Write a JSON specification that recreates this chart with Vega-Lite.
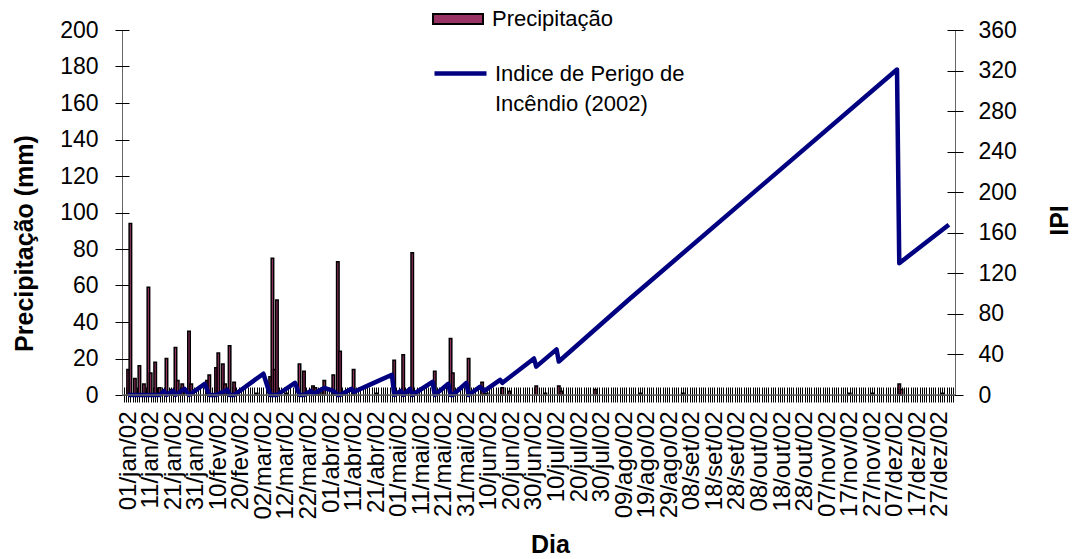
{
  "$schema": "https://vega.github.io/schema/vega-lite/v6.json",
  "width": 833,
  "height": 365,
  "autosize": {"type": "none"},
  "padding": {"left": 122, "top": 30, "right": 124, "bottom": 164},
  "background": "white",
  "config": {
    "view": {"stroke": null},
    "font": "Liberation Sans",
    "axis": {
      "grid": false,
      "labelFont": "Liberation Sans",
      "labelColor": "black",
      "labelFontSize": 23,
      "titleFont": "Liberation Sans",
      "titleFontSize": 25,
      "titleFontWeight": "bold",
      "titleColor": "black",
      "tickColor": "black",
      "tickWidth": 1,
      "domainColor": "#666666",
      "domainWidth": 1
    },
    "legend": {"labelFont": "Liberation Sans", "labelColor": "black", "labelFontSize": 22, "padding": 0}
  },
  "datasets": {
    "precip": [
      {"d": 1, "mm": 14}, {"d": 2, "mm": 94}, {"d": 4, "mm": 9}, {"d": 6, "mm": 16}, {"d": 8, "mm": 6},
      {"d": 10, "mm": 59}, {"d": 11, "mm": 12}, {"d": 13, "mm": 18}, {"d": 15, "mm": 4}, {"d": 18, "mm": 20},
      {"d": 20, "mm": 3}, {"d": 22, "mm": 26}, {"d": 23, "mm": 8}, {"d": 25, "mm": 6}, {"d": 28, "mm": 35},
      {"d": 29, "mm": 6}, {"d": 36, "mm": 8}, {"d": 37, "mm": 11}, {"d": 40, "mm": 15}, {"d": 41, "mm": 23},
      {"d": 43, "mm": 17}, {"d": 44, "mm": 6}, {"d": 46, "mm": 27}, {"d": 48, "mm": 7}, {"d": 58, "mm": 1},
      {"d": 64, "mm": 10}, {"d": 65, "mm": 75}, {"d": 66, "mm": 14}, {"d": 67, "mm": 52}, {"d": 71, "mm": 1},
      {"d": 77, "mm": 17}, {"d": 79, "mm": 13}, {"d": 83, "mm": 5}, {"d": 84, "mm": 4}, {"d": 86, "mm": 3},
      {"d": 88, "mm": 8}, {"d": 92, "mm": 11}, {"d": 93, "mm": 2}, {"d": 94, "mm": 73}, {"d": 95, "mm": 24},
      {"d": 101, "mm": 14}, {"d": 111, "mm": 1}, {"d": 119, "mm": 19}, {"d": 123, "mm": 22}, {"d": 127, "mm": 78},
      {"d": 137, "mm": 13}, {"d": 144, "mm": 31}, {"d": 145, "mm": 12}, {"d": 152, "mm": 20}, {"d": 158, "mm": 7},
      {"d": 160, "mm": 1}, {"d": 167, "mm": 4}, {"d": 170, "mm": 2}, {"d": 182, "mm": 5}, {"d": 186, "mm": 1},
      {"d": 192, "mm": 5}, {"d": 193, "mm": 2}, {"d": 208, "mm": 3}, {"d": 228, "mm": 1}, {"d": 247, "mm": 1},
      {"d": 321, "mm": 1}, {"d": 331, "mm": 1}, {"d": 343, "mm": 6}, {"d": 344, "mm": 3}, {"d": 362, "mm": 1}
    ],
    "ipi": [
      {"d": 1, "v": 0}, {"d": 15, "v": 0}, {"d": 17, "v": 4}, {"d": 18, "v": 0}, {"d": 21, "v": 4},
      {"d": 22, "v": 0}, {"d": 26, "v": 6}, {"d": 28, "v": 0}, {"d": 35, "v": 11}, {"d": 37, "v": 0},
      {"d": 40, "v": 0}, {"d": 45, "v": 5}, {"d": 46, "v": 0}, {"d": 48, "v": 0}, {"d": 61, "v": 21},
      {"d": 64, "v": 0}, {"d": 67, "v": 0}, {"d": 75, "v": 12}, {"d": 77, "v": 0}, {"d": 79, "v": 0},
      {"d": 82, "v": 4}, {"d": 83, "v": 1}, {"d": 88, "v": 7}, {"d": 92, "v": 4}, {"d": 94, "v": 0},
      {"d": 95, "v": 0}, {"d": 100, "v": 6}, {"d": 101, "v": 3}, {"d": 110, "v": 12}, {"d": 118, "v": 20},
      {"d": 119, "v": 0}, {"d": 122, "v": 4}, {"d": 123, "v": 0}, {"d": 126, "v": 6}, {"d": 127, "v": 0},
      {"d": 136, "v": 13}, {"d": 137, "v": 0}, {"d": 143, "v": 11}, {"d": 144, "v": 0}, {"d": 145, "v": 0},
      {"d": 151, "v": 12}, {"d": 152, "v": 0}, {"d": 157, "v": 8}, {"d": 159, "v": 4}, {"d": 166, "v": 15},
      {"d": 167, "v": 12}, {"d": 181, "v": 36}, {"d": 182, "v": 28}, {"d": 191, "v": 45}, {"d": 192, "v": 33},
      {"d": 223, "v": 94}, {"d": 342, "v": 321}, {"d": 343, "v": 130}, {"d": 365, "v": 168}
    ]
  },
  "layer": [
    {
      "data": {"name": "precip"},
      "mark": {"type": "bar", "width": 2.5, "stroke": "black", "strokeWidth": 1.5},
      "encoding": {
        "x": {
          "field": "d",
          "type": "quantitative",
          "scale": {"domain": [0.5, 365.5], "nice": false, "zero": false},
          "axis": {
            "orient": "bottom",
            "title": "Dia",
            "tickCount": 365,
            "ticks": false,
            "labelPadding": 16,
            "labelAngle": 270,
            "labelFontSize": 24,
            "labelOverlap": false,
            "labelBound": false,
            "labelFlush": false,
            "labelLimit": 300,
            "labelExpr": "(datum.value - 1) % 10 == 0 ? timeFormat(datetime(2002, 0, datum.value), '%d') + '/' + ['jan','fev','mar','abr','mai','jun','jul','ago','set','out','nov','dez'][month(datetime(2002, 0, datum.value))] + '/02' : ''",
            "titleX": 428,
            "titleY": 157,
            "titleAlign": "center",
            "titleBaseline": "alphabetic"
          }
        },
        "y": {
          "field": "mm",
          "type": "quantitative",
          "scale": {"domain": [0, 200], "nice": false},
          "axis": {
            "orient": "left",
            "title": "Precipitação (mm)",
            "values": [0, 20, 40, 60, 80, 100, 120, 140, 160, 180, 200],
            "ticks": false,
            "labelPadding": 24,
            "labelFlush": false,
            "titleAngle": 270,
            "titleX": -90,
            "titleY": 213,
            "titleAlign": "center",
            "titleBaseline": "alphabetic"
          }
        },
        "fill": {
          "datum": "Precipitação",
          "type": "nominal",
          "scale": {"range": ["#993366"]},
          "legend": {
            "orient": "none",
            "legendX": 310,
            "legendY": -37,
            "title": null,
            "symbolType": "M-1,-0.2H1V0.2H-1Z",
            "symbolSize": 2500,
            "symbolStrokeColor": "black",
            "symbolStrokeWidth": 2,
            "labelOffset": 8,
            "labelLimit": 400
          }
        }
      }
    },
    {
      "data": {"name": "ipi"},
      "mark": {"type": "line", "strokeWidth": 4.5, "strokeJoin": "round"},
      "encoding": {
        "x": {
          "field": "d",
          "type": "quantitative",
          "axis": {
            "orient": "bottom",
            "title": null,
            "tickCount": 365,
            "offset": 7,
            "tickSize": -15,
            "labels": false,
            "domain": false
          }
        },
        "y": {
          "field": "v",
          "type": "quantitative",
          "scale": {"domain": [0, 360], "nice": false},
          "axis": {
            "orient": "right",
            "title": "IPI",
            "values": [0, 40, 80, 120, 160, 200, 240, 280, 320, 360],
            "ticks": false,
            "labelPadding": 23,
            "labelFlush": false,
            "titleAngle": 270,
            "titleX": 112,
            "titleY": 190,
            "titleAlign": "center",
            "titleBaseline": "alphabetic"
          }
        },
        "stroke": {
          "datum": "Indice de Perigo de Incêndio (2002)",
          "type": "nominal",
          "scale": {"range": ["#000080"]},
          "legend": {
            "orient": "none",
            "legendX": 310,
            "legendY": 15,
            "title": null,
            "symbolType": "stroke",
            "symbolSize": 2704,
            "symbolStrokeWidth": 4.5,
            "labelOffset": 6,
            "labelLimit": 400,
            "labelExpr": "['Indice de Perigo de', 'Incêndio (2002)']",
            "encode": {"labels": {"update": {"lineHeight": {"value": 30}}}}
          }
        }
      }
    },
    {
      "data": {"values": [{}]},
      "mark": {"type": "rule", "color": "#666666", "strokeWidth": 1},
      "encoding": {
        "y": {
          "datum": 0,
          "type": "quantitative",
          "scale": {"domain": [0, 200], "nice": false},
          "axis": {
            "orient": "left",
            "title": null,
            "values": [0, 20, 40, 60, 80, 100, 120, 140, 160, 180, 200],
            "offset": 7,
            "tickSize": -14,
            "labels": false,
            "domain": false
          }
        }
      }
    },
    {
      "data": {"values": [{}]},
      "mark": {"type": "rule", "color": "#666666", "strokeWidth": 1},
      "encoding": {
        "y": {
          "datum": 0,
          "type": "quantitative",
          "scale": {"domain": [0, 360], "nice": false},
          "axis": {
            "orient": "right",
            "title": null,
            "values": [0, 40, 80, 120, 160, 200, 240, 280, 320, 360],
            "offset": 8,
            "tickSize": -16,
            "labels": false,
            "domain": false
          }
        }
      }
    }
  ],
  "resolve": {"scale": {"y": "independent"}, "axis": {"x": "independent", "y": "independent"}}
}
